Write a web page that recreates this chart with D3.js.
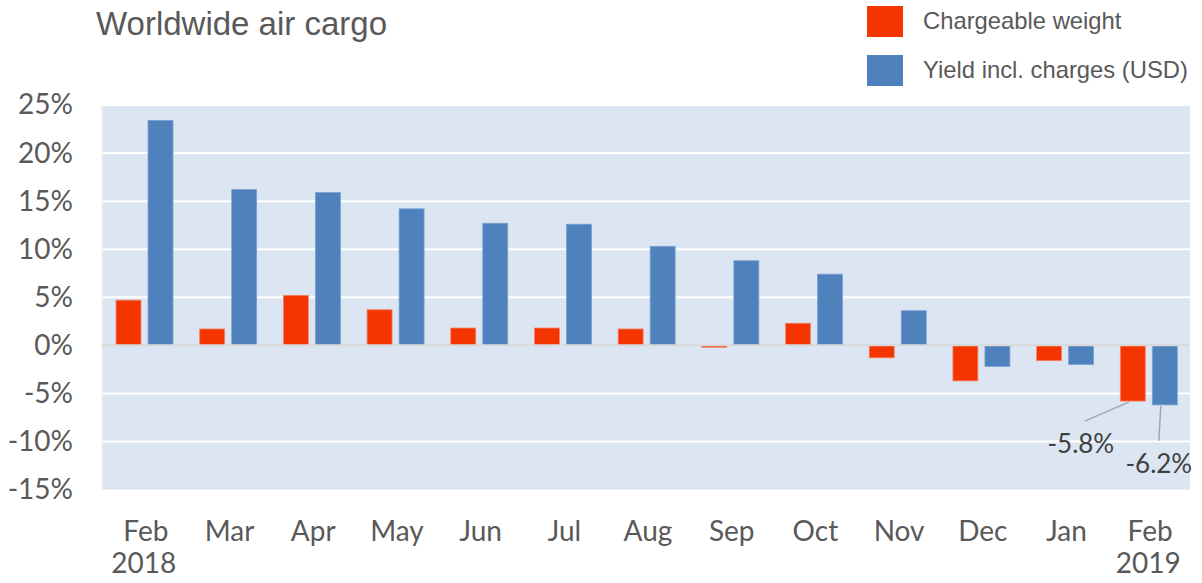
<!DOCTYPE html>
<html>
<head>
<meta charset="utf-8">
<script src="https://cdn.jsdelivr.net/npm/d3@7"></script>
<style>
  body { margin: 0; background: #fff; }
  svg { display: block; }
</style>
</head>
<body>
<svg id="chart" width="1202" height="583"></svg>
<script>
var months = ["Feb", "Mar", "Apr", "May", "Jun", "Jul", "Aug", "Sep", "Oct", "Nov", "Dec", "Jan", "Feb "];
var years = ["2018", "", "", "", "", "", "", "", "", "", "", "", "2019"];
var seriesNames = ["Chargeable weight", "Yield incl. charges (USD)"];
var chargeableWeight = [4.7, 1.7, 5.2, 3.7, 1.8, 1.8, 1.7, -0.2, 2.3, -1.3, -3.7, -1.6, -5.8];
var yieldUsd = [23.4, 16.2, 15.9, 14.2, 12.7, 12.6, 10.3, 8.8, 7.4, 3.6, -2.2, -2.0, -6.2];
var yTicks = [-15, -10, -5, 0, 5, 10, 15, 20, 25];

(function() {
	var svg = d3.select("#chart");
	var colors = ["#f43500", "#4f81bd"];
	var strokes = ["#f7826a", "#7da1cf"];
	var left = 102, right = 1190, top = 105, bottom = 489.5;

	var x = d3.scaleBand().domain(d3.range(months.length)).range([left, right]);
	var x1 = d3.scaleBand().domain([0, 1]).range([14, 71]).paddingInner(0.22);
	var y = d3.scaleLinear().domain([-15, 25]).range([bottom, top]);

	// plot background
	svg.append("rect").attr("x", left).attr("y", top)
		.attr("width", right - left).attr("height", bottom - top)
		.attr("fill", "#dce6f2");
	svg.append("line").attr("x1", left).attr("x2", left).attr("y1", top).attr("y2", bottom)
		.attr("stroke", "#eef2f8").attr("stroke-width", 1.5);

	// gridlines
	svg.append("g").selectAll("line").data(yTicks.filter(function(d) { return d !== 0 && d !== -15; }))
		.enter().append("line")
		.attr("x1", left + 1).attr("x2", right)
		.attr("y1", function(d) { return y(d); }).attr("y2", function(d) { return y(d); })
		.attr("stroke", "#ffffff").attr("stroke-width", 2);

	// y axis labels
	var yAxis = d3.axisLeft(y).tickValues(yTicks).tickSize(0).tickPadding(0)
		.tickFormat(function(d) { return d + "%"; });
	var ya = svg.append("g").attr("transform", "translate(73,0)").call(yAxis);
	ya.select(".domain").remove();
	ya.selectAll("text").attr("font-family", "Lato").attr("font-size", 28).attr("fill", "#595959");

	// bars
	var data = months.map(function(m, i) { return [chargeableWeight[i], yieldUsd[i]]; });
	var groups = svg.append("g").selectAll("g").data(data).enter().append("g")
		.attr("transform", function(d, i) { return "translate(" + x(i) + ",0)"; });
	groups.selectAll("rect").data(function(d) { return d; }).enter().append("rect")
		.attr("x", function(d, j) { return x1(j); })
		.attr("width", x1.bandwidth())
		.attr("y", function(d) { return y(Math.max(0, d)); })
		.attr("height", function(d) { return Math.abs(y(d) - y(0)); })
		.attr("fill", function(d, j) { return colors[j]; })
		.attr("stroke", function(d, j) { return strokes[j]; })
		.attr("stroke-width", 0.8);

	// zero line
	svg.append("line").attr("x1", left).attr("x2", right)
		.attr("y1", y(0)).attr("y2", y(0))
		.attr("stroke", "#d9d9d9").attr("stroke-width", 2);

	// x labels
	var xl = svg.append("g").attr("font-family", "Lato").attr("font-size", 28)
		.attr("fill", "#595959").attr("text-anchor", "middle");
	xl.selectAll("text.m").data(months).enter().append("text").attr("class", "m")
		.attr("x", function(d, i) { return x(i) + x.bandwidth() / 2 + 2; })
		.attr("y", 541).text(function(d) { return d.trim(); });
	xl.selectAll("text.yr").data(years).enter().append("text").attr("class", "yr")
		.attr("x", function(d, i) { return x(i) + x.bandwidth() / 2; })
		.attr("y", 573).text(function(d) { return d; });

	// data labels for last month
	var last = months.length - 1;
	var labs = [
		{ j: 0, v: chargeableWeight[last], lx: -48, ly: 20, tx: -52, ty: 52 },
		{ j: 1, v: yieldUsd[last], lx: -6, ly: 36, tx: -6, ty: 68 }
	];
	labs.forEach(function(l) {
		var bx = x(last) + x1(l.j) + x1.bandwidth() / 2;
		var by = y(l.v);
		svg.append("line").attr("x1", bx - 4).attr("y1", by + 1)
			.attr("x2", bx + l.lx).attr("y2", by + l.ly)
			.attr("stroke", "#a6a6a6").attr("stroke-width", 1.5);
		svg.append("text").attr("x", bx + l.tx).attr("y", by + l.ty)
			.attr("text-anchor", "middle").attr("font-family", "Lato").attr("font-size", 26)
			.attr("fill", "#404040").text(l.v.toFixed(1) + "%");
	});

	// title
	svg.append("text").attr("x", 96).attr("y", 35)
		.attr("font-family", "Liberation Sans").attr("font-size", 33).attr("fill", "#595959")
		.text("Worldwide air cargo");

	// legend
	var lg = svg.append("g").selectAll("g").data(seriesNames).enter().append("g")
		.attr("transform", function(d, i) { return "translate(867," + (6 + i * 49) + ")"; });
	lg.append("rect").attr("width", 36).attr("height", 31)
		.attr("fill", function(d, i) { return colors[i]; });
	lg.append("text").attr("x", 56).attr("y", 23)
		.attr("font-family", "Liberation Sans").attr("font-size", 23.8).attr("fill", "#595959")
		.text(function(d) { return d; });
})();
</script>
</body>
</html>
